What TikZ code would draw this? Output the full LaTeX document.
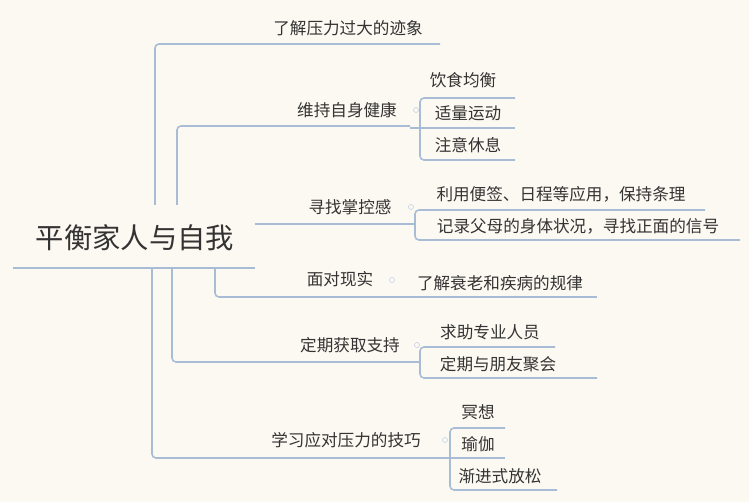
\documentclass[tikz,border=0pt]{standalone}
\usepackage{fontspec}
\setmainfont{Noto Sans CJK SC}
\begin{document}
\begin{tikzpicture}[x=1pt,y=-1pt,
  ln/.style={draw=lnc,line width=1.6pt,rounded corners=4pt},
  thick ln/.style={draw=lnc,line width=2.6pt,rounded corners=6pt},
  tx/.style={text=txc,font=\fontsize{16.6}{18}\selectfont,inner sep=0pt},
  dot/.style={circle,draw=lnc!70,line width=0.6pt,inner sep=0pt,minimum size=5pt}]
\definecolor{lnc}{HTML}{A9BCD6}
\definecolor{txc}{HTML}{333333}
\fill[fill={rgb,255:red,252;green,249;blue,242}] (0,0) rectangle (749,502);
\useasboundingbox (0,0) rectangle (749,502);
% root
\node[text=txc,font=\fontsize{28.3}{31}\selectfont,inner sep=0pt] (root) at (135,238) {平衡家人与自我};
\draw[thick ln] (13,268) -- (255,268);
% branch texts
\node[tx] (b1) at (348,28) {了解压力过大的迹象};
\node[tx] (b2) at (347,110) {维持自身健康};
\node[tx] (b3) at (350,207) {寻找掌控感};
\node[tx] (b4) at (340,279) {面对现实};
\node[tx] (b5) at (350,345) {定期获取支持};
\node[tx] (b6) at (346,440) {学习应对压力的技巧};
% connectors
\draw[ln] (155,205) -- (155,44) -- (440,44);
\draw[ln] (177,205) -- (177,126) -- (410,126);
\draw[ln] (255,224) -- (405,224);
\draw[ln] (215,268) -- (215,297) -- (385,297);
\draw[ln] (172,268) -- (172,362) -- (410,362);
\draw[ln] (152,268) -- (152,458) -- (440,458);
% children
\node[tx] (c21) at (463,80) {饮食均衡};
\node[tx] (c22) at (468,113) {适量运动};
\node[tx] (c23) at (468,145) {注意休息};
\draw[ln] (515,98) -- (420,98) -- (420,160) -- (515,160);
\draw[ln] (410,128) -- (515,128);
\node[tx] (c31) at (561,194) {利用便签、日程等应用，保持条理};
\node[tx] (c32) at (578,226) {记录父母的身体状况，寻找正面的信号};
\draw[ln] (705,210) -- (415,210) -- (415,240) -- (740,240);
\draw[ln] (405,224) -- (415,224);
\node[tx] (c41) at (500,283) {了解衰老和疾病的规律};
\draw[ln] (385,297) -- (597,297);
\node[tx] (c51) at (490,332) {求助专业人员};
\node[tx] (c52) at (498,364) {定期与朋友聚会};
\draw[ln] (555,347) -- (420,347) -- (420,378) -- (597,378);
\draw[ln] (410,362) -- (420,362);
\node[tx] (c61) at (478,412) {冥想};
\node[tx] (c62) at (478,444) {瑜伽};
\node[tx] (c63) at (500,476) {渐进式放松};
\draw[ln] (505,428) -- (450,428) -- (450,490) -- (557,490);
\draw[ln] (440,458) -- (505,458);
% collapse dots
\node[dot] (d2) at (416,110) {};
\node[dot] (d3) at (411,207) {};
\node[dot] (d4) at (392,280) {};
\node[dot] (d5) at (417,345) {};
\node[dot] (d6) at (445,440) {};
\end{tikzpicture}
\end{document}
